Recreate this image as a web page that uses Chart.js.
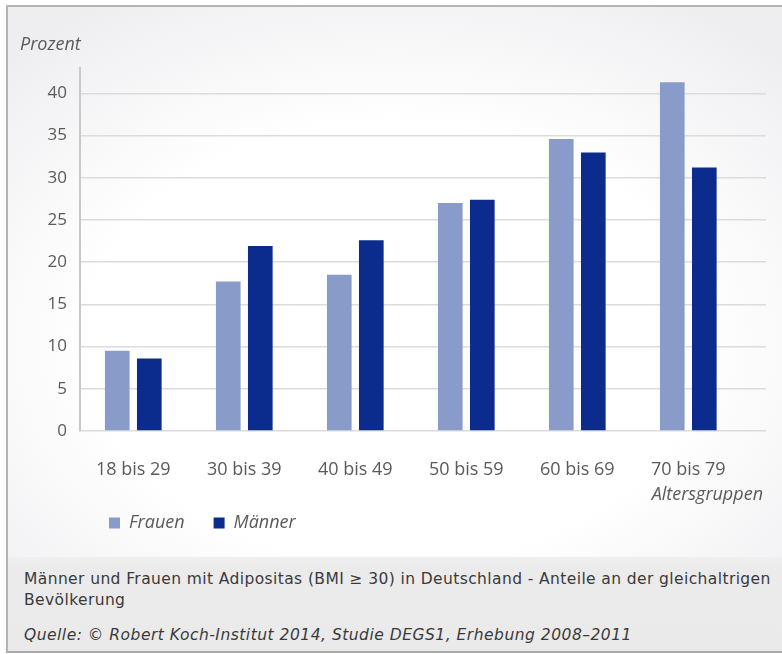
<!DOCTYPE html>
<html lang="de">
<head>
<meta charset="utf-8">
<title>Adipositas nach Altersgruppen</title>
<script src="https://cdn.jsdelivr.net/npm/chart.js@4.4.1/dist/chart.umd.min.js"></script>
<style>
  html, body { margin: 0; padding: 0; background: #fff; }
  #page { position: relative; width: 782px; height: 654px; overflow: hidden; background: #fff; }
  #frame {
    position: absolute; left: 6px; top: 5px; right: 0; bottom: 1px;
    border-left: 2px solid #b4b4b4; border-top: 2px solid #b4b4b4; border-bottom: 2px solid #a9a9a9;
    background: radial-gradient(ellipse 72% 62% at 50% 52%, #ffffff 55%, #eeeef1 100%);
  }
  #caption {
    position: absolute; left: 8px; right: 0; top: 557px; bottom: 3px;
    background: linear-gradient(#efefef, #ebebeb 12px, #eaeaea);
    font-family: "DejaVu Sans", Verdana, sans-serif; color: #3a3a3a;
  }
  #caption .desc { position: absolute; left: 16px; top: 12px; white-space: nowrap; font-size: 15.5px; letter-spacing: 0.4px; line-height: 21px; }
  #caption .src { position: absolute; left: 16px; top: 68px; white-space: nowrap; font-size: 15.5px; letter-spacing: 0.5px; line-height: 21px; font-style: italic; }
  #chart { position: absolute; left: 0; top: 0; }
</style>
</head>
<body>
<div id="page">
  <div id="frame"></div>
  <div id="caption">
    <div class="desc">Männer und Frauen mit Adipositas (BMI ≥ 30) in Deutschland - Anteile an der gleichaltrigen<br>Bevölkerung</div>
    <div class="src">Quelle: © Robert Koch-Institut 2014, Studie DEGS1, Erhebung 2008–2011</div>
  </div>
  <canvas id="chart" width="782" height="560"></canvas>
</div>
<script>
// Altersgruppen und Anteile (Prozent) adipöser Frauen und Männer
const ageGroups = ['18 bis 29', '30 bis 39', '40 bis 49', '50 bis 59', '60 bis 69', '70 bis 79'];
const frauen  = [9.5, 17.7, 18.5, 27.0, 34.6, 41.3];
const maenner = [8.6, 21.9, 22.6, 27.4, 33.0, 31.2];
const seriesNames = ['Frauen', 'Männer'];
const yAxisLabel = 'Prozent';
const xAxisLabel = 'Altersgruppen';

const textGrey = '#5a5a5a';
const chartFont = '"Open Sans", Lato, sans-serif';

// Achsenbeschriftungen "Prozent" (oben links) und "Altersgruppen" (unten rechts)
const axisCaptions = {
  id: 'axisCaptions',
  afterDraw(chart) {
    const { ctx, chartArea, scales } = chart;
    ctx.save();
    ctx.fillStyle = textGrey;
    ctx.font = 'italic 18px ' + chartFont;
    ctx.textBaseline = 'middle';
    ctx.textAlign = 'left';
    ctx.fillText(yAxisLabel, 20, chartArea.top - 23);
    ctx.textAlign = 'right';
    ctx.fillText(xAxisLabel, scales.x.right - 3, scales.x.bottom + 10);
    ctx.restore();
  }
};

const toPoints = values => values.map((v, i) => ({ x: i, y: v }));

new Chart(document.getElementById('chart'), {
  type: 'bar',
  data: {
    datasets: [
      { label: seriesNames[0], data: toPoints(frauen),  backgroundColor: '#899bc8', borderWidth: 0,
        barPercentage: 0.77, categoryPercentage: 0.577 },
      { label: seriesNames[1], data: toPoints(maenner), backgroundColor: '#0b2c8c', borderWidth: 0,
        barPercentage: 0.77, categoryPercentage: 0.577 }
    ]
  },
  options: {
    responsive: false,
    devicePixelRatio: 1,
    animation: false,
    layout: { padding: { top: 68, right: 16, bottom: 18, left: 0 } },
    scales: {
      x: {
        type: 'linear',
        min: -0.48,
        max: 5.70,
        offset: false,
        grid: { display: false, offset: false },
        border: { display: false },
        ticks: {
          stepSize: 1,
          includeBounds: false,
          autoSkip: false,
          maxRotation: 0,
          padding: 20,
          color: textGrey,
          font: { family: chartFont, size: 18 },
          callback: v => (Number.isInteger(v) && ageGroups[v]) ? ageGroups[v] : ''
        },
        afterFit(scale) { scale.height = 54; }
      },
      y: {
        min: 0,
        max: 43,
        ticks: {
          stepSize: 5,
          includeBounds: false,
          padding: 13,
          color: textGrey,
          font: { family: chartFont, size: 17 }
        },
        grid: { color: '#dcdcdc', lineWidth: 1.5, drawTicks: false },
        border: { display: true, color: '#c9c9c9', width: 2 },
        afterFit(scale) { scale.width = 80; }
      }
    },
    plugins: {
      legend: {
        position: 'bottom',
        align: 'start',
        fullSize: false,
        labels: {
          boxWidth: 11,
          boxHeight: 11,
          padding: 29,
          color: textGrey,
          font: { family: chartFont, size: 18, style: 'italic' }
        }
      },
      tooltip: { enabled: false }
    }
  },
  plugins: [axisCaptions]
});
</script>
</body>
</html>
